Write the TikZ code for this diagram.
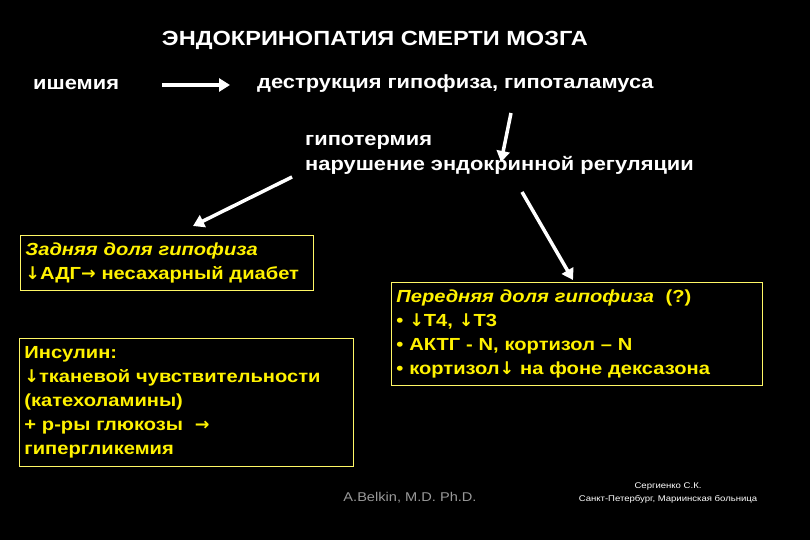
\documentclass[tikz,border=0pt]{standalone}
\usepackage{fontspec}
\setmainfont[FakeStretch=1.15]{Liberation Sans}
\newfontfamily\arrfont[FakeStretch=1.0]{DejaVu Sans}
\newcommand{\dn}{{\arrfont\bfseries ↓}}
\newcommand{\rt}{{\arrfont\bfseries →}}
\usetikzlibrary{arrows.meta}
\begin{document}
\begin{tikzpicture}[x=1pt,y=-1pt,
  txt/.style={text=white,font=\bfseries\fontsize{19}{24}\selectfont,inner sep=0pt},
  ybox/.style={draw=yellow!60!white,line width=0.8pt,text=yellow,anchor=north west,align=left,inner sep=5pt,font=\bfseries\fontsize{17.5}{24}\selectfont},
  warrow/.style={draw=white,line width=3.5pt,-{Triangle[length=11pt,width=13pt]}}]
\fill[black] (0,0) rectangle (810,540);
\useasboundingbox (0,0) rectangle (810,540);
\node[txt,font=\bfseries\fontsize{20.5}{24}\selectfont] (title) at (375,40) {ЭНДОКРИНОПАТИЯ СМЕРТИ МОЗГА};
\node[txt,anchor=west] (isch) at (33,84) {ишемия};
\node[txt,anchor=west] (destr) at (257,84) {деструкция гипофиза, гипоталамуса};
\coordinate (a1s) at (162,85);
\coordinate (a1e) at (230,85);
\draw[warrow] (a1s) -- (a1e);
\node[txt,anchor=west] (hypo) at (305,142) {гипотермия};
\node[txt,anchor=west] (endo) at (305,165) {нарушение эндокринной регуляции};
\coordinate (a2s) at (511,113);
\coordinate (a2e) at (501,162);
\draw[warrow] (a2s) -- (a2e);
\coordinate (a3s) at (292,177);
\coordinate (a3e) at (193,226);
\draw[warrow] (a3s) -- (a3e);
\coordinate (a4s) at (522,192);
\coordinate (a4e) at (573,280);
\draw[warrow] (a4s) -- (a4e);
\node[ybox,text width=283pt,minimum height=55pt] (b1) at (20,235)
 {\textit{Задняя доля гипофиза}\\\dn АДГ\rt\ несахарный диабет};
\node[ybox,text width=324pt,minimum height=128pt] (b2) at (19,338)
 {Инсулин:\\\dn тканевой чувствительности\\(катехоламины)\\+ р-ры глюкозы \ \rt\\гипергликемия};
\node[ybox,text width=361pt,minimum height=103pt] (b3) at (391,282)
 {\textit{Передняя доля гипофиза} \ (?)\\• \dn Т4, \dn Т3\\• АКТГ - N, кортизол – N\\• кортизол\dn\ на фоне дексазона};
\node[text=gray!80,font=\fontsize{12.7}{14}\selectfont] (belkin) at (410,498) {A.Belkin, M.D. Ph.D.};
\node[text=white,font=\fontsize{8.3}{13}\selectfont,align=center] (serg) at (668,493) {Сергиенко С.К.\\Санкт-Петербург, Мариинская больница};
\end{tikzpicture}
\end{document}
